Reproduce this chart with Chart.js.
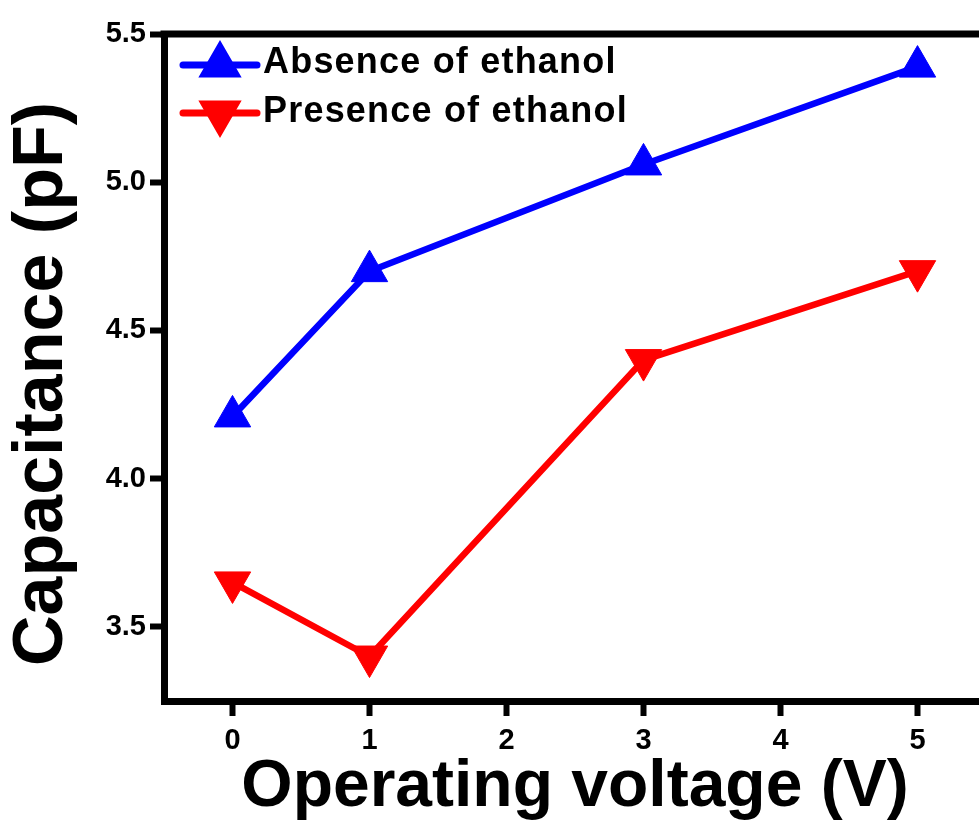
<!DOCTYPE html>
<html>
<head>
<meta charset="utf-8">
<script src="https://cdn.jsdelivr.net/npm/chart.js@4/dist/chart.umd.min.js"></script>
<style>
  html, body { margin: 0; padding: 0; overflow: hidden; background: #fff; }
  canvas { display: block; }
</style>
</head>
<body>
<canvas id="c" width="1008" height="827"></canvas>
<script>
// Capacitance vs. operating voltage, with and without ethanol
const voltages = [0, 1, 3, 5];
const absenceValues = [4.21, 4.70, 5.06, 5.39];
const presenceValues = [3.65, 3.40, 4.40, 4.70];
const xTickValues = [0, 1, 2, 3, 4, 5];
const yTickValues = [3.5, 4.0, 4.5, 5.0, 5.5];
const seriesNames = ['Absence of ethanol', 'Presence of ethanol'];
const xTitle = 'Operating voltage (V)';
const yTitle = 'Capacitance (pF)';

const FONT = '"Liberation Sans", Arial, Helvetica, sans-serif';
const BLUE = '#0000ff';
const RED = '#ff0000';

const toPoints = (ys) => voltages.map((x, i) => ({ x, y: ys[i] }));

// Closed top/right frame, rotated y title and line+marker legend
const frameAndLegend = {
  id: 'frameAndLegend',
  afterDraw(chart) {
    const { ctx, chartArea: a } = chart;
    ctx.save();
    ctx.strokeStyle = '#000';
    ctx.lineWidth = 7;
    ctx.beginPath();
    ctx.moveTo(a.left - 3.5, a.top);
    ctx.lineTo(a.right + 3.5, a.top);
    ctx.moveTo(a.right, a.top);
    ctx.lineTo(a.right, a.bottom + 3.5);
    ctx.stroke();

    // y axis title
    ctx.save();
    ctx.translate(43, 384);
    ctx.rotate(-Math.PI / 2);
    ctx.fillStyle = '#000';
    ctx.font = 'bold 70px ' + FONT;
    ctx.textAlign = 'center';
    ctx.textBaseline = 'middle';
    ctx.fillText(yTitle, 0, 0);
    ctx.restore();

    // legend
    chart.data.datasets.forEach((ds, i) => {
      const y = a.top + 31 + i * 48;
      const x0 = a.left + 19, x1 = a.left + 93;
      ctx.strokeStyle = ds.borderColor;
      ctx.lineWidth = 7;
      ctx.lineCap = 'round';
      ctx.beginPath();
      ctx.moveTo(x0, y);
      ctx.lineTo(x1, y);
      ctx.stroke();
      ctx.fillStyle = ds.pointBackgroundColor;
      ctx.strokeStyle = ds.pointBorderColor;
      Chart.helpers.drawPoint(ctx, {
        pointStyle: 'triangle',
        radius: 18,
        rotation: ds.pointRotation || 0,
        borderWidth: 1
      }, (x0 + x1) / 2, y);
      ctx.fillStyle = '#000';
      ctx.font = 'bold 36px ' + FONT;
      ctx.letterSpacing = '1.2px';
      ctx.textAlign = 'left';
      ctx.textBaseline = 'middle';
      ctx.fillText(ds.label, a.left + 99, y - 2 + i);
      ctx.letterSpacing = '0px';
    });
    ctx.restore();
  }
};

new Chart(document.getElementById('c'), {
  type: 'line',
  data: {
    datasets: [
      {
        label: seriesNames[0],
        data: toPoints(absenceValues),
        borderColor: BLUE,
        backgroundColor: BLUE,
        pointBackgroundColor: BLUE,
        pointBorderColor: BLUE,
        borderWidth: 6.5,
        pointStyle: 'triangle',
        pointRadius: 21,
        pointBorderWidth: 1,
        tension: 0
      },
      {
        label: seriesNames[1],
        data: toPoints(presenceValues),
        borderColor: RED,
        backgroundColor: RED,
        pointBackgroundColor: RED,
        pointBorderColor: RED,
        borderWidth: 6.5,
        pointStyle: 'triangle',
        pointRotation: 180,
        pointRadius: 21,
        pointBorderWidth: 1,
        tension: 0
      }
    ]
  },
  options: {
    responsive: false,
    animation: false,
    layout: { padding: { top: 34, right: 16, left: 0, bottom: 0 } },
    plugins: {
      legend: { display: false },
      tooltip: { enabled: false }
    },
    scales: {
      x: {
        type: 'linear',
        min: -0.5,
        max: 5.5,
        afterBuildTicks: (scale) => { scale.ticks = xTickValues.map(v => ({ value: v })); },
        afterFit: (scale) => { scale.height = 126; scale.paddingLeft = 0; scale.paddingRight = 0; },
        grid: { display: true, drawOnChartArea: false, drawTicks: true, tickLength: 15, tickWidth: 6, tickColor: '#000' },
        border: { display: true, width: 7, color: '#000' },
        ticks: {
          color: '#000',
          padding: 8,
          maxRotation: 0,
          font: { family: FONT, size: 29, weight: 'bold' },
          callback: (v) => String(v)
        },
        title: {
          display: true,
          text: xTitle,
          color: '#000',
          padding: { top: 0, bottom: 0 },
          font: { family: FONT, size: 66, weight: 'bold' }
        }
      },
      y: {
        type: 'linear',
        min: 3.25,
        max: 5.5,
        afterBuildTicks: (scale) => { scale.ticks = yTickValues.map(v => ({ value: v })); },
        afterFit: (scale) => { scale.width = 164; scale.paddingTop = 0; scale.paddingBottom = 0; },
        grid: { display: true, drawOnChartArea: false, drawTicks: true, tickLength: 14, tickWidth: 6, tickColor: '#000' },
        border: { display: true, width: 7, color: '#000' },
        ticks: {
          color: '#000',
          padding: 4,
          font: { family: FONT, size: 29, weight: 'bold' },
          callback: (v) => Number(v).toFixed(1)
        }
      }
    }
  },
  plugins: [frameAndLegend]
});
</script>
</body>
</html>
